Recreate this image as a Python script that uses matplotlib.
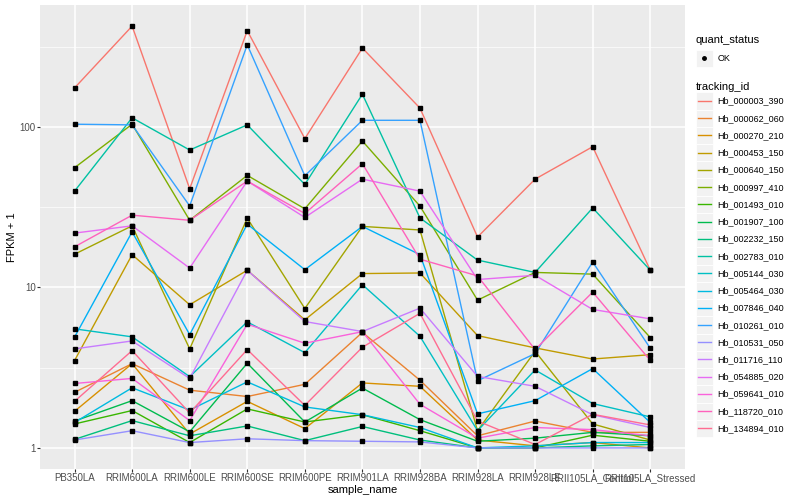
import matplotlib
matplotlib.use('Agg')
import matplotlib.pyplot as plt
import numpy as np
from matplotlib.lines import Line2D
from matplotlib.patches import Rectangle
from matplotlib.legend_handler import HandlerBase

plt.rcParams['font.family'] = ['Liberation Sans', 'DejaVu Sans']

# Datos
samples = ['PB350LA', 'RRIM600LA', 'RRIM600LE', 'RRIM600SE', 'RRIM600PE', 'RRIM901LA',
           'RRIM928BA', 'RRIM928LA', 'RRIM928LE', 'RRII105LA_Control', 'RRII105LA_Stressed']

tracking_ids = ['Hb_000003_390', 'Hb_000062_060', 'Hb_000270_210', 'Hb_000453_150',
                'Hb_000640_150', 'Hb_000997_410', 'Hb_001493_010', 'Hb_001907_100',
                'Hb_002232_150', 'Hb_002783_010', 'Hb_005144_030', 'Hb_005464_030',
                'Hb_007846_040', 'Hb_010261_010', 'Hb_010531_050', 'Hb_011716_110',
                'Hb_054885_020', 'Hb_059641_010', 'Hb_118720_010', 'Hb_134894_010']

# FPKM + 1 por muestra (mismo orden que samples)
hb_000003_390 = [175, 425, 41.2, 398, 84.6, 310, 131, 20.6, 47.3, 75.3, 12.8]
hb_000062_060 = [2.22, 3.35, 2.29, 2.09, 2.49, 5.25, 2.64, 1.19, 1.47, 1.25, 1.25]
hb_000270_210 = [1.69, 3.35, 1.22, 1.95, 1.32, 2.54, 2.42, 1.12, 1.03, 1.08, 1.0]
hb_000453_150 = [3.5, 16.0, 7.8, 12.8, 6.28, 12.2, 12.3, 5.01, 4.2, 3.58, 3.81]
hb_000640_150 = [16.1, 24.2, 4.14, 27, 7.39, 24, 22.8, 1.28, 4.0, 1.41, 1.12]
hb_000997_410 = [55.7, 104, 26.2, 49.9, 30.9, 81.7, 32.1, 8.33, 12.4, 12.1, 4.87]
hb_001493_010 = [1.41, 1.71, 1.08, 1.75, 1.45, 1.61, 1.28, 1.0, 1.0, 1.2, 1.1]
hb_001907_100 = [1.47, 1.97, 1.26, 3.37, 1.45, 2.36, 1.50, 1.10, 1.15, 1.25, 1.19]
hb_002232_150 = [1.13, 1.48, 1.19, 1.37, 1.11, 1.36, 1.12, 1.0, 1.0, 1.03, 1.05]
hb_002783_010 = [39.8, 114, 71.8, 103, 43.8, 160, 27.1, 14.8, 12.4, 31.3, 12.8]
hb_005144_030 = [5.52, 4.92, 2.78, 6.1, 3.92, 10.4, 4.96, 1.28, 3.06, 1.89, 1.56]
hb_005464_030 = [1.44, 2.37, 1.72, 2.58, 1.80, 1.61, 1.34, 1.0, 1.03, 1.08, 1.08]
hb_007846_040 = [4.9, 22.2, 5.08, 24.8, 12.9, 24, 16.0, 1.63, 1.97, 3.12, 1.44]
hb_010261_010 = [104, 103, 32.2, 325, 49.6, 110, 110, 2.62, 3.87, 14.4, 4.18]
hb_010531_050 = [1.12, 1.28, 1.08, 1.14, 1.11, 1.10, 1.09, 1.0, 1.0, 1.0, 1.0]
hb_011716_110 = [4.14, 4.64, 2.71, 12.8, 6.13, 5.31, 7.43, 2.79, 2.42, 1.61, 1.34]
hb_054885_020 = [21.8, 24.2, 13.2, 46, 27.3, 47.3, 39.8, 11.2, 11.9, 7.29, 6.37]
hb_059641_010 = [2.52, 2.71, 1.48, 5.9, 4.49, 5.3, 1.87, 1.15, 1.34, 1.30, 1.19]
hb_118720_010 = [17.9, 28.2, 26.2, 46, 28.9, 59, 15.0, 11.8, 4.1, 9.35, 3.51]
hb_134894_010 = [1.95, 4.04, 1.65, 4.1, 1.84, 4.24, 6.9, 1.47, 1.05, 1.62, 1.39]

series = [hb_000003_390, hb_000062_060, hb_000270_210, hb_000453_150, hb_000640_150,
          hb_000997_410, hb_001493_010, hb_001907_100, hb_002232_150, hb_002783_010,
          hb_005144_030, hb_005464_030, hb_007846_040, hb_010261_010, hb_010531_050,
          hb_011716_110, hb_054885_020, hb_059641_010, hb_118720_010, hb_134894_010]

# paleta hue de ggplot (20 colores)
colores = ['#F8766D', '#EA8331', '#D89000', '#C09B00', '#A3A500', '#7CAE00', '#39B600',
           '#00BB4E', '#00BF7D', '#00C1A3', '#00BFC4', '#00BAE0', '#00B0F6', '#35A2FF',
           '#9590FF', '#C77CFF', '#E76BF3', '#FA62DB', '#FF62BC', '#FF6C91']


# Claves de leyenda con fondo gris, estilo ggplot
class KeyHandler(HandlerBase):
    def create_artists(self, legend, orig_handle, xdescent, ydescent, width, height, fontsize, trans):
        x0, y0 = -xdescent, -ydescent
        bg = Rectangle((x0, y0), width, height, facecolor='#F2F2F2', edgecolor='white',
                       linewidth=0.6, transform=trans)
        cy = y0 + height / 2
        if orig_handle.get_linestyle() in ('None', 'none', ''):
            mk = Line2D([x0 + width / 2], [cy], marker='o', markersize=2.5, color='black',
                        linestyle='none', transform=trans)
        else:
            mk = Line2D([x0 + width * 0.1, x0 + width * 0.9], [cy, cy],
                        color=orig_handle.get_color(), linewidth=1.0, transform=trans)
        return [bg, mk]


fig = plt.figure(figsize=(8, 5), dpi=100)
ax = fig.add_axes([0.05, 0.062, 0.806, 0.928])
ax.set_facecolor('#EBEBEB')

x_pos = np.arange(len(samples))

lineas = []
for valores, color, nombre in zip(series, colores, tracking_ids):
    ln, = ax.plot(x_pos, valores, color=color, linewidth=1.0, label=nombre, zorder=2)
    lineas.append(ln)
for valores in series:
    ax.plot(x_pos, valores, linestyle='none', marker='s', markersize=2.4, color='black', zorder=3)

# Ejes
ax.set_yscale('log')
todos = np.concatenate([np.array(s) for s in series])
lo, hi = np.log10(todos.min()), np.log10(todos.max())
pad = (hi - lo) * 0.05
ax.set_ylim(10 ** (lo - pad), 10 ** (hi + pad))
ax.set_xlim(-0.6, len(samples) - 0.4)

ax.set_yticks([1, 10, 100])
ax.set_yticklabels(['1', '10', '100'])
ax.set_yticks([10 ** 0.5, 10 ** 1.5, 10 ** 2.5], minor=True)
ax.set_xticks(x_pos)
ax.set_xticklabels(samples)

ax.grid(which='major', color='white', linewidth=1.1)
ax.grid(which='minor', axis='y', color='white', linewidth=0.5)
ax.set_axisbelow(True)
ax.tick_params(which='major', length=2, width=0.8, color='#333333', labelsize=7,
               labelcolor='#4D4D4D', pad=1)
ax.tick_params(which='minor', length=0)
for sp in ax.spines.values():
    sp.set_visible(False)

ax.set_xlabel('sample_name', fontsize=8, labelpad=1)
ax.set_ylabel('FPKM + 1', fontsize=8, labelpad=2)

# Leyendas
ok_handle = Line2D([], [], linestyle='none', marker='o', color='black')
fig.legend([ok_handle], ['OK'], title='quant_status', loc='upper left',
           bbox_to_anchor=(0.862, 0.942), frameon=False, fontsize=6.5,
           title_fontsize=8, handler_map={Line2D: KeyHandler()},
           handlelength=1.9, handleheight=2.56, handletextpad=0.45,
           borderpad=0.2, alignment='left')
fig.legend(lineas, tracking_ids, title='tracking_id', loc='upper left',
           bbox_to_anchor=(0.862, 0.848), frameon=False, fontsize=6.5,
           title_fontsize=8, handler_map={Line2D: KeyHandler()},
           handlelength=1.9, handleheight=2.56, handletextpad=0.45,
           labelspacing=0.0, borderpad=0.2, alignment='left')

plt.savefig('out.png', dpi=100)
